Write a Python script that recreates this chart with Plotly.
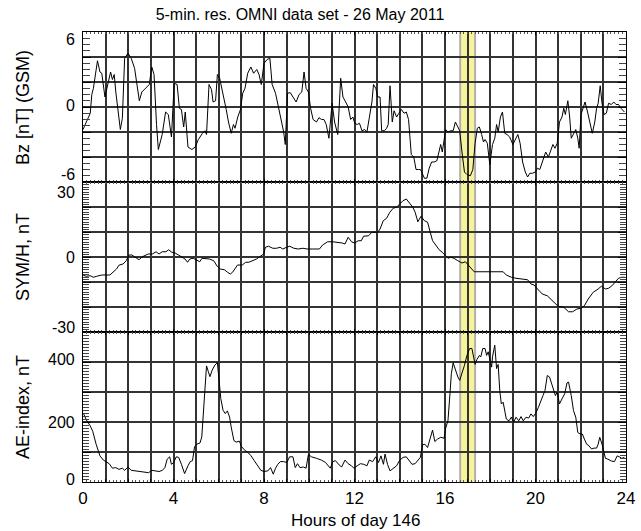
import plotly.graph_objects as go
from plotly.subplots import make_subplots

# ---------------- data ----------------
bz_points = [
    (0.0, -1.8), (0.32, -0.5), (0.39, 1.0), (0.46, 1.5), (0.64, 3.7), (0.75, 2.8), (0.83, 2.7),
    (0.93, 1.0), (0.97, 0.8), (1.12, 2.0), (1.22, 2.8), (1.3, 2.2), (1.38, 2.6), (1.45, 1.2),
    (1.55, -0.6), (1.65, -1.8), (1.74, -0.9), (1.84, 3.9), (1.99, 4.3), (2.13, 3.9), (2.28, 3.1),
    (2.38, 1.9), (2.49, 0.5), (2.6, 1.2), (2.71, 1.4), (2.81, 1.6), (2.93, 1.8), (3.04, 3.2),
    (3.14, 2.6), (3.25, -1.4), (3.33, -3.4), (3.5, -2.2), (3.65, -0.4), (3.77, -0.6), (3.91, -2.4),
    (4.03, 1.9), (4.16, 1.8), (4.26, -0.1), (4.35, -0.2), (4.45, -1.6), (4.52, -0.4), (4.64, -3.2),
    (4.81, -3.4), (4.96, -3.2), (5.1, -2.6), (5.28, -2.1), (5.39, -1.9), (5.46, -2.2), (5.57, 1.8),
    (5.68, 1.4), (5.75, 0.4), (5.86, 0.5), (5.94, 2.6), (6.04, 2.3), (6.19, 1.1), (6.33, -0.2),
    (6.43, -1.2), (6.55, -2.1), (6.65, -1.4), (6.72, -1.7), (6.84, -0.8), (6.96, -0.2), (7.06, 1.1),
    (7.16, 1.5), (7.28, 2.7), (7.42, 3.2), (7.54, 2.7), (7.68, 3.0), (7.78, 2.6), (7.88, 1.8),
    (8.0, 3.5), (8.14, 3.8), (8.26, 3.9), (8.36, 1.8), (8.51, 1.1), (8.65, -0.2), (8.8, -1.4),
    (8.87, -2.0), (8.94, -3.0), (9.04, 1.1), (9.16, 1.15), (9.3, 0.8), (9.42, 0.4), (9.55, 1.0),
    (9.67, 1.2), (9.77, 2.8), (9.86, 1.5), (9.96, 1.2), (10.06, -0.1), (10.17, -1.0), (10.32, -1.2),
    (10.43, -0.85), (10.54, -1.0), (10.65, -1.0), (10.75, -1.4), (10.87, -2.5), (11.01, 0.3),
    (11.12, -1.2), (11.26, -2.2), (11.39, 2.3), (11.49, 0.8), (11.61, 0.4), (11.72, 0.0),
    (11.83, -1.0), (11.93, -0.8), (12.01, -1.3), (12.12, -1.4), (12.22, -1.3), (12.33, -1.9),
    (12.45, -1.8), (12.55, -2.0), (12.65, -0.9), (12.77, 0.4), (12.84, 1.8), (12.94, 1.5),
    (13.03, 0.8), (13.13, 0.8), (13.2, -1.9), (13.32, -1.9), (13.42, -1.7), (13.49, -1.4),
    (13.57, 1.7), (13.67, -1.2), (13.75, -0.3), (13.86, -0.8), (13.96, -0.5), (14.07, -0.2),
    (14.19, -0.5), (14.29, -0.4), (14.39, -1.0), (14.51, -3.8), (14.62, -4.0), (14.72, -5.0),
    (14.83, -5.0), (14.91, -5.0), (14.97, -5.2), (15.09, -5.7), (15.2, -5.7), (15.3, -4.9),
    (15.41, -4.4), (15.52, -4.4), (15.64, -4.3), (15.74, -3.4), (15.81, -3.0), (15.88, -3.6),
    (15.96, -2.8), (16.03, -1.8), (16.13, -2.0), (16.25, -1.9), (16.36, -1.9), (16.46, -1.2),
    (16.57, -1.6), (16.65, -1.9), (16.75, -3.6), (16.86, -5.2), (16.97, -5.4), (17.12, -5.5),
    (17.23, -5.0), (17.33, -2.9), (17.43, -1.7), (17.52, -1.6), (17.62, -2.2), (17.7, -2.8),
    (17.77, -2.6), (17.87, -2.9), (17.98, -4.6), (18.1, -3.0), (18.2, -2.5), (18.28, -1.4),
    (18.35, -2.0), (18.45, -0.8), (18.54, -0.4), (18.64, -2.1), (18.74, -2.2), (18.86, -2.4),
    (19.0, -3.0), (19.12, -2.5), (19.22, -2.2), (19.32, -2.9), (19.43, -4.4), (19.55, -5.2),
    (19.65, -5.6), (19.75, -5.3), (19.87, -5.3), (19.99, -5.2), (20.09, -4.9), (20.19, -5.0),
    (20.3, -4.4), (20.45, -3.6), (20.57, -4.0), (20.67, -3.4), (20.77, -3.0), (20.86, -3.3),
    (20.96, -2.9), (21.06, -1.2), (21.17, -0.8), (21.25, -0.1), (21.32, -0.6), (21.43, 0.5),
    (21.51, -0.8), (21.58, -2.5), (21.68, -2.2), (21.78, -1.8), (21.87, -2.5), (21.93, -3.3),
    (22.01, -0.6), (22.11, -0.1), (22.19, 0.4), (22.3, -0.4), (22.41, -1.3), (22.51, -2.1),
    (22.62, -1.2), (22.7, -0.1), (22.77, 0.3), (22.86, 1.7), (22.94, 0.3), (23.03, -0.6),
    (23.13, -0.5), (23.23, 0.3), (23.35, 0.2), (23.46, 0.4), (23.56, 0.2), (23.67, 0.2),
    (23.78, -0.1), (23.93, -0.4),
]

sym_points = [
    (0.0, -7.2), (0.14, -7.7), (0.32, -7.5), (0.46, -8.1), (0.61, -7.7), (0.83, -7.2), (1.19, -7.2),
    (1.33, -6.1), (1.48, -4.8), (1.6, -3.2), (1.77, -2.8), (1.91, -1.5), (2.03, 0.8), (2.16, 0.8),
    (2.3, -0.1), (2.48, -1.1), (2.6, 0.0), (2.75, 0.5), (2.88, 1.2), (3.06, 1.2), (3.23, 2.1),
    (3.36, 1.2), (3.5, 2.1), (3.67, 2.1), (3.78, 2.9), (3.93, 1.9), (4.07, 1.6), (4.22, 0.8),
    (4.36, -0.1), (4.51, -0.8), (4.62, -2.1), (4.72, -0.8), (4.87, -0.5), (5.01, -1.2), (5.16, -1.9),
    (5.26, -0.5), (5.45, -0.5), (5.59, -0.8), (5.78, -1.5), (5.93, -3.7), (6.07, -4.8), (6.25, -5.1),
    (6.39, -6.1), (6.51, -6.8), (6.61, -6.1), (6.75, -4.1), (6.83, -3.2), (7.04, -3.2), (7.19, -2.1),
    (7.33, -2.1), (7.48, -1.5), (7.67, -0.8), (7.84, 0.3), (7.99, 1.2), (8.06, 3.9), (8.2, 4.3),
    (8.39, 3.5), (8.56, 3.5), (8.71, 3.9), (8.83, 3.2), (9.0, 3.9), (9.14, 4.3), (9.32, 3.5),
    (9.51, 3.2), (9.72, 3.5), (9.9, 3.2), (10.16, 3.2), (10.45, 3.2), (10.59, 4.8), (10.81, 6.1),
    (11.03, 6.1), (11.29, 5.9), (11.46, 5.6), (11.58, 5.2), (11.72, 7.9), (11.87, 6.1), (12.01, 5.6),
    (12.16, 6.5), (12.3, 6.5), (12.4, 8.3), (12.62, 8.5), (12.77, 9.9), (13.03, 9.9), (13.13, 11.2),
    (13.27, 14.5), (13.42, 15.5), (13.56, 17.9), (13.71, 19.5), (13.86, 19.9), (14.0, 21.2),
    (14.14, 22.5), (14.29, 23.2), (14.43, 21.6), (14.58, 19.9), (14.68, 17.9), (14.8, 14.1),
    (14.94, 16.3), (15.09, 14.5), (15.23, 13.9), (15.35, 9.2), (15.45, 6.5), (15.59, 4.8),
    (15.74, 2.9), (15.88, 1.9), (16.03, 0.3), (16.13, -0.5), (16.25, -0.1), (16.39, -0.5),
    (16.57, -1.5), (16.75, -2.4), (16.9, -1.9), (17.04, -3.2), (17.19, -4.8), (17.29, -5.9),
    (17.55, -5.9), (18.57, -5.9), (18.71, -7.2), (18.93, -8.1), (19.14, -8.5), (19.43, -8.8),
    (19.65, -9.1), (19.8, -10.8), (19.94, -11.2), (20.09, -12.8), (20.3, -14.8), (20.52, -15.5),
    (20.74, -17.5), (21.0, -19.7), (21.25, -20.1), (21.46, -21.9), (21.64, -21.9), (21.83, -20.8),
    (22.01, -20.5), (22.16, -19.5), (22.33, -16.8), (22.55, -14.1), (22.77, -12.8), (22.91, -11.7),
    (23.09, -12.8), (23.23, -12.5), (23.38, -11.5), (23.52, -10.1), (23.67, -8.5), (23.81, -8.1),
    (23.96, -8.1),
]

ae_points = [
    (0.03, 227), (0.14, 208), (0.32, 187), (0.43, 169), (0.58, 126), (0.75, 87), (0.9, 73),
    (1.04, 68), (1.16, 61), (1.3, 46), (1.45, 48), (1.59, 42), (1.74, 46), (1.84, 39), (1.99, 50),
    (2.13, 39), (2.32, 37), (2.49, 35), (2.71, 35), (2.9, 31), (3.04, 39), (3.22, 37), (3.36, 35),
    (3.51, 39), (3.62, 48), (3.72, 76), (3.83, 84), (3.91, 59), (4.01, 65), (4.12, 84), (4.23, 82),
    (4.35, 59), (4.49, 28), (4.64, 54), (4.74, 68), (4.84, 71), (4.93, 117), (5.03, 126),
    (5.17, 130), (5.25, 150), (5.32, 240), (5.39, 330), (5.46, 387), (5.54, 368), (5.61, 351),
    (5.71, 373), (5.83, 390), (5.94, 398), (6.01, 339), (6.09, 278), (6.19, 239), (6.29, 228),
    (6.38, 237), (6.48, 216), (6.55, 183), (6.67, 138), (6.77, 133), (6.91, 136), (7.01, 118),
    (7.13, 107), (7.28, 99), (7.42, 88), (7.57, 71), (7.71, 54), (7.86, 39), (8.0, 35), (8.17, 37),
    (8.29, 48), (8.41, 26), (8.51, 46), (8.61, 59), (8.72, 68), (8.87, 68), (9.01, 65), (9.13, 84),
    (9.28, 84), (9.38, 48), (9.48, 61), (9.59, 48), (9.74, 50), (9.86, 46), (9.96, 91), (10.1, 84),
    (10.32, 79), (10.54, 73), (10.72, 65), (10.93, 46), (11.04, 68), (11.16, 71), (11.32, 57),
    (11.43, 50), (11.58, 73), (11.72, 61), (11.87, 54), (11.97, 46), (12.12, 54), (12.26, 61),
    (12.41, 59), (12.55, 54), (12.65, 73), (12.8, 68), (12.94, 84), (13.06, 65), (13.17, 87),
    (13.28, 59), (13.35, 93), (13.46, 59), (13.57, 37), (13.71, 46), (13.86, 54), (14.0, 73),
    (14.15, 82), (14.29, 84), (14.39, 73), (14.54, 59), (14.68, 61), (14.83, 73), (14.91, 82),
    (15.01, 124), (15.11, 126), (15.23, 115), (15.33, 143), (15.45, 173), (15.55, 135),
    (15.67, 143), (15.81, 149), (15.96, 146), (16.03, 180), (16.13, 204), (16.22, 294),
    (16.28, 361), (16.36, 397), (16.46, 372), (16.57, 350), (16.65, 339), (16.75, 361),
    (16.86, 389), (16.97, 422), (17.09, 445), (17.19, 445), (17.26, 417), (17.33, 392),
    (17.41, 408), (17.52, 422), (17.58, 417), (17.67, 445), (17.77, 445), (17.84, 422),
    (17.91, 434), (17.98, 406), (18.06, 383), (18.1, 417), (18.2, 456), (18.28, 378),
    (18.35, 392), (18.42, 305), (18.49, 260), (18.57, 266), (18.64, 238), (18.71, 210),
    (18.83, 204), (18.93, 216), (19.03, 199), (19.14, 216), (19.26, 204), (19.36, 218),
    (19.46, 204), (19.58, 216), (19.7, 213), (19.8, 227), (19.9, 218), (20.01, 229), (20.13, 249),
    (20.23, 271), (20.33, 288), (20.42, 305), (20.52, 355), (20.62, 350), (20.71, 327),
    (20.81, 305), (20.88, 288), (20.96, 299), (21.06, 260), (21.17, 277), (21.29, 294),
    (21.39, 330), (21.46, 333), (21.58, 288), (21.68, 238), (21.78, 216), (21.87, 165),
    (21.97, 160), (22.07, 160), (22.16, 143), (22.26, 126), (22.36, 121), (22.48, 110),
    (22.59, 113), (22.7, 113), (22.77, 126), (22.84, 149), (22.94, 126), (23.03, 98), (23.09, 79),
    (23.2, 76), (23.35, 70), (23.49, 68), (23.61, 87), (23.71, 84), (23.81, 79), (23.93, 82),
]

bz_hours = [p[0] for p in bz_points]
bz_values = [p[1] for p in bz_points]
sym_hours = [p[0] for p in sym_points]
sym_values = [p[1] for p in sym_points]
ae_hours = [p[0] for p in ae_points]
ae_values = [p[1] for p in ae_points]

highlight_hours = [16.67, 17.33]

hour_ticks = list(range(0, 25))
hour_labels = [str(h) if h % 4 == 0 else "" for h in hour_ticks]

bz_grid = [-6, -4, -2, 0, 2, 4, 6]
bz_labels = [6, 0, -6]
sym_grid = [-30, -20, -10, 0, 10, 20, 30]
sym_labels = [30, 0, -30]
ae_grid = [0, 100, 200, 300, 400, 500]
ae_labels = [400, 200, 0]

title_text = "5-min. res. OMNI data set - 26 May 2011"
x_title = "Hours of day 146"
y_titles = ["Bz [nT] (GSM)", "SYM/H, nT", "AE-index, nT"]

# ---------------- figure ----------------
FONT = "Liberation Sans, Arial, Helvetica, sans-serif"
W, H = 641, 531
L, R, T, B = 83, 6, 32, 49
plot_h = H - T - B

fig = make_subplots(rows=3, cols=1, shared_xaxes=True, vertical_spacing=0)

line_style = dict(color="black", width=1)
fig.add_trace(go.Scatter(x=bz_hours, y=bz_values, mode="lines", line=line_style), row=1, col=1)
fig.add_trace(go.Scatter(x=sym_hours, y=sym_values, mode="lines", line=line_style), row=2, col=1)
fig.add_trace(go.Scatter(x=ae_hours, y=ae_values, mode="lines", line=line_style), row=3, col=1)

GRID = "#333333"
GW = 1.5
for r in (1, 2, 3):
    fig.update_xaxes(
        row=r, col=1, range=[0, 24], tickmode="array", tickvals=hour_ticks, ticktext=hour_labels,
        showticklabels=(r == 3), ticklabeloverflow="allow",
        showgrid=True, gridcolor=GRID, gridwidth=GW,
        ticks="inside", ticklen=3, tickcolor="black", zeroline=False,
        showline=True, linecolor="black", linewidth=1.3, mirror="allticks",
        tickfont=dict(family=FONT, size=17, color="black"),
        minor=dict(tick0=0, dtick=1 / 6, ticks="inside", ticklen=2, tickcolor="#555555",
                   tickwidth=1, showgrid=False),
    )

y_specs = [
    (1, [-6, 6], bz_grid, 0.5, 7),
    (2, [-30, 30], sym_grid, 1, 6),
    (3, [0, 500], ae_grid, 10, 6),
]
for r, rng, grid, mdt, mlen in y_specs:
    fig.update_yaxes(
        row=r, col=1, range=rng, tickmode="array", tickvals=grid, showticklabels=False,
        showgrid=True, gridcolor=GRID, gridwidth=GW, zeroline=False,
        ticks="inside", ticklen=8, tickcolor="black",
        showline=True, linecolor="black", linewidth=1.3, mirror="allticks",
        minor=dict(dtick=mdt, ticks="inside", ticklen=mlen, tickcolor="#444444", tickwidth=1,
                   showgrid=False),
    )

# highlighted interval
fig.add_shape(type="rect", xref="x", yref="paper", x0=highlight_hours[0], x1=highlight_hours[1],
              y0=0, y1=1, fillcolor="#f6f39a", line=dict(width=0), layer="below")
for hx in highlight_hours:
    fig.add_shape(type="line", xref="x", yref="paper", x0=hx, x1=hx, y0=0, y1=1,
                  line=dict(color="#b0b0b0", width=2), layer="below")

# y tick labels (shifted inward at the panel ends, as in the reference)
label_sets = [
    ("y", bz_labels, {6: -7, 0: 2, -6: 8}),
    ("y2", sym_labels, {30: -10, 0: 0, -30: 5}),
    ("y3", ae_labels, {400: 3, 200: 0, 0: 3}),
]
annotations = []
for yref, labels, shifts in label_sets:
    for v in labels:
        annotations.append(dict(
            xref="paper", yref=yref, x=0, y=v, text=str(v), showarrow=False,
            xanchor="right", yanchor="middle", xshift=-6, yshift=shifts[v],
            font=dict(family=FONT, size=16, color="black"),
        ))

# y axis titles
panel_centers = [5 / 6, 0.5, 1 / 6]
for text, yc in zip(y_titles, panel_centers):
    annotations.append(dict(
        xref="paper", yref="paper", x=(22 - L) / (W - L - R), y=yc, text=text, textangle=-90,
        showarrow=False, xanchor="center", yanchor="middle",
        font=dict(family=FONT, size=18, color="black"),
    ))

# x axis title
annotations.append(dict(
    xref="paper", yref="paper", x=(360 - L) / (W - L - R), y=-(520 - (H - B)) / plot_h,
    text=x_title, showarrow=False, xanchor="center", yanchor="middle",
    font=dict(family=FONT, size=17, color="black"),
))

fig.update_layout(
    width=W, height=H,
    margin=dict(l=L, r=R, t=T, b=B),
    paper_bgcolor="white", plot_bgcolor="white",
    showlegend=False,
    title=dict(text=title_text, x=300 / W, xanchor="center", y=1 - 14 / H, yanchor="middle",
               font=dict(family=FONT, size=16, color="black")),
    annotations=annotations,
)

fig.write_html("out.html")
